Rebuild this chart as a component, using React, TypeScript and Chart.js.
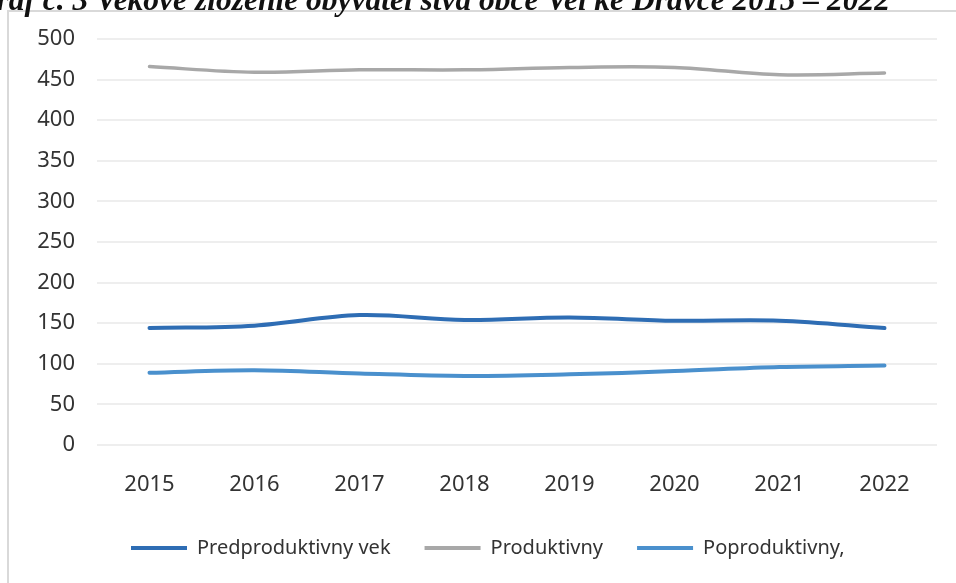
import React, { useEffect, useRef } from "react";
import { Chart, registerables } from "chart.js";

Chart.register(...registerables);

const years = ["2015", "2016", "2017", "2018", "2019", "2020", "2021", "2022"];
const predproduktivny = [144, 147, 160, 154, 157, 153, 153, 144];
const produktivny = [466, 459, 462, 462, 465, 465, 456, 458];
const poproduktivny = [89, 92, 88, 85, 87, 91, 96, 98];
const yTicks = [0, 50, 100, 150, 200, 250, 300, 350, 400, 450, 500];

const seriesNames = ["Predproduktivny vek", "Produktivny", "Poproduktivny,"];
const seriesColors = ["#2E6DB4", "#A8A8A8", "#4A90CD"];

const titleText = "Graf č. 3 Vekové zloženie obyvateľstva obce Veľké Dravce 2015 – 2022";

export default function App() {
  const canvasRef = useRef<HTMLCanvasElement | null>(null);

  useEffect(() => {
    if (!canvasRef.current) return;
    const values = [predproduktivny, produktivny, poproduktivny];
    const chart = new Chart(canvasRef.current, {
      type: "line",
      data: {
        labels: years,
        datasets: values.map((v, i) => ({
          label: seriesNames[i],
          data: v,
          borderColor: seriesColors[i],
          backgroundColor: seriesColors[i],
          borderWidth: i === 1 ? 3.5 : 4,
          pointRadius: 0,
          tension: 0.35,
          borderCapStyle: "round" as const,
          fill: false,
        })),
      },
      options: {
        animation: false,
        responsive: false,
        maintainAspectRatio: false,
        layout: { padding: { left: 0, right: 19, top: 39, bottom: 15 } },
        plugins: {
          title: { display: false },
          tooltip: { enabled: false },
          legend: {
            position: "bottom",
            align: "start",
            fullSize: false,
            labels: {
              boxWidth: 56,
              boxHeight: 4,
              padding: 34,
              color: "#333333",
              font: { family: "'Noto Sans', sans-serif", size: 20 },
              generateLabels: (c: any) =>
                c.data.datasets.map((d: any, i: number) => ({
                  text: d.label,
                  fillStyle: d.borderColor,
                  strokeStyle: d.borderColor,
                  lineWidth: 0,
                  hidden: false,
                  datasetIndex: i,
                  fontColor: "#333333",
                })),
            },
          },
        },
        scales: {
          x: {
            offset: true,
            grid: { display: false, drawTicks: false },
            border: { display: false },
            ticks: {
              padding: 27,
              color: "#333333",
              font: { family: "'Noto Sans', sans-serif", size: 22 },
            },
            afterFit: (s: any) => {
              s.height = 59;
            },
          },
          y: {
            min: 0,
            max: 500,
            afterBuildTicks: (s: any) => {
              s.ticks = yTicks.map((v) => ({ value: v }));
            },
            grid: { color: "#eeeeee", lineWidth: 2, drawTicks: false },
            border: { display: false },
            ticks: {
              padding: 22,
              color: "#333333",
              font: { family: "'Noto Sans', sans-serif", size: 22 },
            },
            afterFit: (s: any) => {
              s.width = 97;
            },
          },
        },
      },
    });
    return () => chart.destroy();
  }, []);

  return (
    <div
      style={{
        position: "fixed",
        left: 0,
        top: 0,
        width: 956,
        height: 583,
        overflow: "hidden",
        background: "#ffffff",
      }}
    >
      <div
        style={{
          position: "absolute",
          left: 7,
          top: 10,
          right: -10,
          bottom: -10,
          borderLeft: "2px solid #d9d9d9",
          borderTop: "2px solid #d9d9d9",
        }}
      />
      <canvas
        ref={canvasRef}
        width={956}
        height={583}
        style={{ position: "absolute", left: 0, top: 0, width: 956, height: 583 }}
      />
      <div
        style={{
          position: "absolute",
          right: 66,
          top: -16,
          whiteSpace: "nowrap",
          fontFamily: "'Liberation Serif', serif",
          fontStyle: "italic",
          fontWeight: "bold",
          fontSize: 31.5,
          lineHeight: "31.5px",
          color: "#111111",
        }}
      >
        {titleText}
      </div>
    </div>
  );
}
